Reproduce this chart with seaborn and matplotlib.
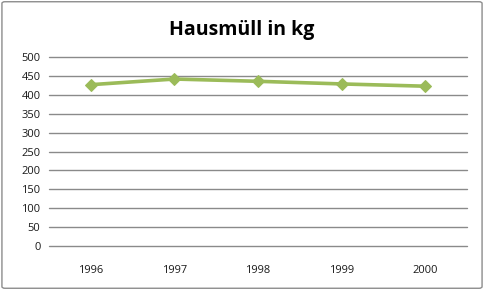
import matplotlib
matplotlib.use("Agg")
import matplotlib.pyplot as plt
import seaborn as sns
import pandas as pd
from matplotlib.patches import FancyBboxPatch

years = ["1996", "1997", "1998", "1999", "2000"]
values = [427, 442, 436, 429, 423]
title = "Hausmüll in kg"
yticks = [0, 50, 100, 150, 200, 250, 300, 350, 400, 450, 500]

sns.set_theme(style="white")
plt.rcParams['font.family'] = ['Open Sans', 'DejaVu Sans']

df = pd.DataFrame({"Jahr": years, "kg": values})

fig = plt.figure(figsize=(4.84, 2.9), dpi=100)
ax = fig.add_axes([0.101, 0.152, 0.864, 0.651])

border = FancyBboxPatch((0.004, 0.006), 0.992, 0.988, boxstyle="round,pad=0,rounding_size=0.006",
                        transform=fig.transFigure, facecolor="none", edgecolor="#8c8c8c",
                        linewidth=1.0, zorder=0)
fig.patches.append(border)

for y in yticks:
    ax.axhline(y, color="#8a8a8a", linewidth=1.0, zorder=1, clip_on=False)

sns.lineplot(data=df, x="Jahr", y="kg", ax=ax, color="#9BBB59", linewidth=2.6,
             marker="D", markersize=6.5, markeredgecolor="#9BBB59", sort=False, zorder=3)

ax.set_xlim(-0.5, 4.5)
ax.set_ylim(0, 500)
ax.set_yticks(yticks)
ax.set_yticklabels([str(v) for v in yticks], fontsize=8, color="#1a1a1a")
ax.tick_params(axis="x", labelsize=8, colors="#1a1a1a", pad=14, length=0)
ax.tick_params(axis="y", pad=6, length=0)
ax.set_xlabel("")
ax.set_ylabel("")
for s in ax.spines.values():
    s.set_visible(False)

fig.text(0.5, 0.895, title, ha="center", va="center", fontsize=14, fontweight="bold", color="#000000")

fig.savefig("out.png", dpi=100)
